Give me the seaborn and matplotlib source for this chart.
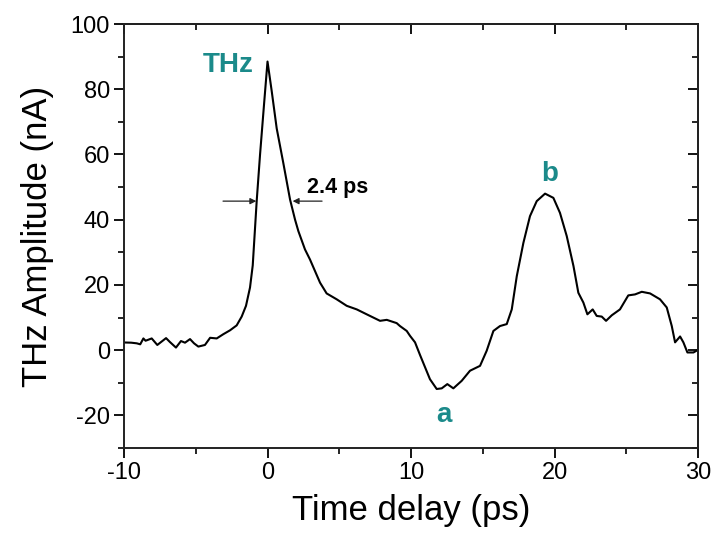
import matplotlib
matplotlib.use("Agg")
import matplotlib.pyplot as plt
import seaborn as sns
import pandas as pd
from matplotlib.ticker import MultipleLocator

time_ps = [-10.0, -9.92, -9.5, -9.11, -8.87, -8.65, -8.5, -8.37, -8.07, -7.68, -7.07, -6.8,
           -6.38, -6.03, -5.75, -5.4, -5.12, -4.82, -4.36, -4.0, -3.54, -3.08, -2.61, -2.15,
           -1.8, -1.5, -1.22, -1.03, -0.75, -0.52, -0.24, 0.0, 0.29, 0.64, 1.1,
           1.57, 1.92, 2.15, 2.61, 2.96, 3.66, 4.12, 4.82, 5.52, 6.22, 6.91, 7.84, 8.31, 9.0,
           9.23, 9.7, 9.93, 10.28, 10.63, 11.32, 11.79, 12.14, 12.53, 12.95, 13.53, 14.11,
           14.81, 15.27, 15.74, 16.2, 16.67, 17.02, 17.37, 17.83, 18.29, 18.76, 19.34, 19.92,
           20.38, 20.85, 21.32, 21.66, 22.01, 22.29, 22.66, 22.94, 23.29, 23.59, 23.99, 24.56,
           25.14, 25.61, 26.08, 26.66, 27.35, 27.82, 28.17, 28.4, 28.75, 28.98, 29.26, 29.68,
           30.0]
amplitude_nA = [2.4, 2.35, 2.3, 2.1, 1.8, 3.6, 2.9, 3.1, 3.6, 1.6, 3.7, 2.5,
                0.8, 2.8, 2.3, 3.4, 2.1, 1.1, 1.6, 3.8, 3.6, 4.9, 6.1, 7.6,
                10.3, 13.6, 19.2, 26.0, 46.0, 60.0, 75.5, 88.5, 79.5, 68.0, 57.4,
                46.2, 40.0, 36.5, 30.9, 27.8, 20.7, 17.4, 15.6, 13.6, 12.5, 11.0, 9.0, 9.3, 8.3,
                7.4, 5.9, 4.4, 2.4, -1.5, -8.9, -11.9, -11.7, -10.4, -11.7, -9.4, -6.3,
                -4.8, -0.2, 5.9, 7.4, 8.0, 12.5, 22.7, 32.9, 41.1, 45.7, 48.0, 46.7,
                42.1, 35.0, 25.8, 17.6, 14.6, 11.0, 12.5, 10.5, 10.3, 9.0, 10.7, 12.5,
                16.8, 17.1, 17.9, 17.4, 15.6, 13.1, 7.4, 2.4, 4.2, 2.4, -0.7, -0.7,
                0.1]

x_ticks = [-10, 0, 10, 20, 30]
y_ticks = [-20, 0, 20, 40, 60, 80, 100]
x_label = "Time delay (ps)"
y_label = "THz Amplitude (nA)"
peak_labels = ["THz", "a", "b"]
peak_label_pos = [(-2.75, 87.5), (12.3, -19.8), (19.65, 54.0)]
fwhm_text = "2.4 ps"

df = pd.DataFrame({"t": time_ps, "amp": amplitude_nA})

sns.set_theme(style="ticks")
plt.rcParams["font.family"] = ["Liberation Sans", "DejaVu Sans"]
plt.rcParams["text.color"] = "black"
plt.rcParams["axes.labelcolor"] = "black"
plt.rcParams["xtick.color"] = "black"
plt.rcParams["ytick.color"] = "black"

fig = plt.figure(figsize=(7.16, 5.34), dpi=100)
ax = fig.add_axes([0.1732, 0.161, 0.8017, 0.794])

sns.lineplot(data=df, x="t", y="amp", ax=ax, color="black", linewidth=1.5, estimator=None, sort=False)

ax.set_xlim(-10, 30)
ax.set_ylim(-30, 100)
ax.set_xticks(x_ticks)
ax.set_yticks(y_ticks)
ax.xaxis.set_minor_locator(MultipleLocator(5))
ax.yaxis.set_minor_locator(MultipleLocator(10))
ax.set_xticklabels([str(v) for v in x_ticks])
ax.set_yticklabels([str(v) for v in y_ticks])

for s in ax.spines.values():
    s.set_visible(True)
    s.set_linewidth(1.4)
    s.set_color("#222222")

ax.tick_params(axis="both", which="major", length=7, width=1.3, labelsize=17, direction="out", pad=3)
ax.tick_params(axis="both", which="minor", length=4.5, width=1.2, direction="out")

# mirrored ticks on top and right, pointing into the plot
top = ax.secondary_xaxis("top")
top.set_xticks(x_ticks)
top.xaxis.set_minor_locator(MultipleLocator(5))
top.tick_params(which="major", direction="in", length=7, width=1.3, labeltop=False)
top.tick_params(which="minor", direction="in", length=4.5, width=1.2)
top.spines["top"].set_linewidth(1.4)
right = ax.secondary_yaxis("right")
right.set_yticks(y_ticks)
right.yaxis.set_minor_locator(MultipleLocator(10))
right.tick_params(which="major", direction="in", length=7, width=1.3, labelright=False)
right.tick_params(which="minor", direction="in", length=4.5, width=1.2)
right.spines["right"].set_linewidth(1.4)

ax.set_xlabel(x_label, fontsize=25, labelpad=7)
ax.set_ylabel(y_label, fontsize=25, labelpad=12)

teal = "#1b8a8a"
ax.text(peak_label_pos[0][0], peak_label_pos[0][1], peak_labels[0], color=teal, fontsize=20,
        fontweight="bold", ha="center", va="center")
ax.text(peak_label_pos[1][0], peak_label_pos[1][1], peak_labels[1], color=teal, fontsize=20,
        fontweight="bold", ha="center", va="center")
ax.text(peak_label_pos[2][0], peak_label_pos[2][1], peak_labels[2], color=teal, fontsize=20,
        fontweight="bold", ha="center", va="center")

arrow_kw = dict(arrowstyle="-|>", color="#222222", lw=0.9, mutation_scale=9, shrinkA=0, shrinkB=0)
ax.annotate("", xy=(-0.78, 45.7), xytext=(-3.1, 45.7), arrowprops=arrow_kw)
ax.annotate("", xy=(1.75, 45.7), xytext=(3.8, 45.7), arrowprops=arrow_kw)
ax.text(4.9, 50.0, fwhm_text, fontsize=15.5, fontweight="bold", color="black", ha="center", va="center")

fig.savefig("out.png", dpi=100)
